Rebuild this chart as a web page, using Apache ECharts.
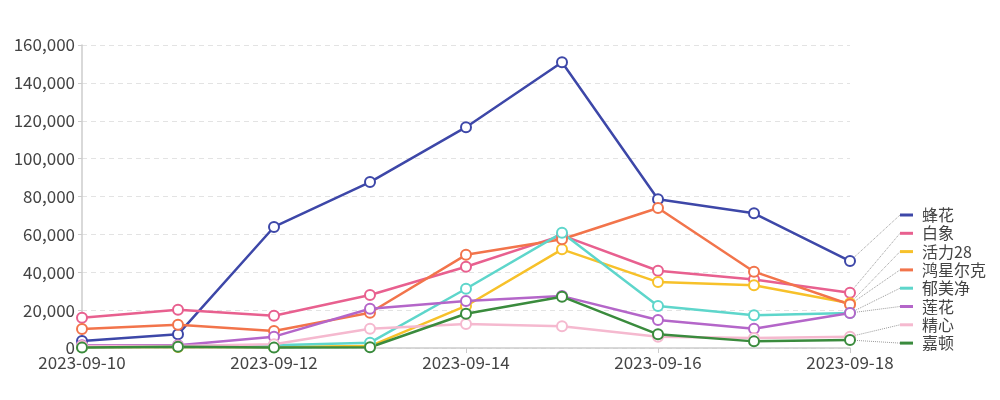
<!DOCTYPE html>
<html>
<head>
<meta charset="utf-8">
<script src="https://cdn.jsdelivr.net/npm/echarts@6/dist/echarts.min.js"></script>
<style>html,body{margin:0;padding:0;background:#fff}#c{width:1000px;height:400px}</style>
</head>
<body>
<div id="c"></div>
<script>
const dates = ['2023-09-10','2023-09-11','2023-09-12','2023-09-13','2023-09-14','2023-09-15','2023-09-16','2023-09-17','2023-09-18'];
const names = ['蜂花','白象','活力28','鸿星尔克','郁美净','莲花','精心','嘉顿'];
const fenghua   = [3700, 7200, 63900, 87600, 116600, 150900, 78500, 71100, 45900];
const baixiang  = [16000, 20200, 17000, 28000, 42900, 59500, 40800, 36200, 29200];
const huoli28   = [500, 500, 500, 1000, 22200, 52100, 34800, 33100, 23600];
const hongxing  = [10000, 12300, 9000, 18600, 49200, 57400, 73900, 40300, 23000];
const yumeijing = [1000, 1000, 1500, 2800, 31300, 60800, 22200, 17300, 18500];
const lianhua   = [1500, 1500, 6000, 20700, 24800, 27400, 14800, 10200, 18500];
const jingxin   = [1000, 1000, 2000, 10200, 12700, 11500, 6000, 5300, 6000];
const jiadun    = [200, 700, 200, 400, 18100, 27100, 7200, 3500, 4200];
const yTicks = [0, 20000, 40000, 60000, 80000, 100000, 120000, 140000, 160000];

const seriesValues = [fenghua, baixiang, huoli28, hongxing, yumeijing, lianhua, jingxin, jiadun];
const colors = ['#3d47a8','#e8608f','#f7c12a','#f2744b','#5ed6cb','#b466c9','#f5b9cf','#3a8b3d'];
const FONT = '"Noto Sans CJK SC", "Noto Sans", sans-serif';

const chart = echarts.init(document.getElementById('c'), null, {renderer: 'canvas'});
const last = dates.length - 1;
const series = names.map((n, k) => ({
  name: n,
  type: 'line',
  data: seriesValues[k].map((v, i) => i === last ? {value: v, label: {show: true}} : v),
  symbol: 'emptyCircle',
  symbolSize: 10,
  showAllSymbol: true,
  lineStyle: {width: 2.5, color: colors[k]},
  itemStyle: {color: colors[k], borderWidth: 2},
  emphasis: {disabled: true},
  label: {
    show: false,
    formatter: '{i|}{n|' + n + '}',
    rich: {
      i: {width: 13, height: 3, backgroundColor: colors[k]},
      n: {padding: [0, 0, 0, 9], color: '#444', fontSize: 16, fontFamily: FONT}
    }
  },
  labelLine: {show: true, lineStyle: {color: '#999', type: 'dotted', width: 1}},
  labelLayout: function () {
    return {x: 900, y: 215 + k * 18.3, align: 'left', verticalAlign: 'middle'};
  }
}));

chart.setOption({
  animation: false,
  color: colors,
  grid: {left: 82, right: 150, top: 45, bottom: 52},
  xAxis: {
    type: 'category',
    data: dates,
    boundaryGap: false,
    axisLine: {lineStyle: {color: '#ccc', width: 1.5}},
    axisTick: {interval: 1, lineStyle: {color: '#ccc'}},
    axisLabel: {interval: 1, color: '#444', fontSize: 17, fontFamily: FONT, margin: 6},
    splitLine: {show: false}
  },
  yAxis: {
    type: 'value',
    min: yTicks[0],
    max: yTicks[yTicks.length - 1],
    interval: yTicks[1] - yTicks[0],
    axisLine: {show: true, lineStyle: {color: '#ccc', width: 1.5}},
    axisTick: {show: true, length: 4, lineStyle: {color: '#ccc'}},
    axisLabel: {color: '#444', fontSize: 17, fontFamily: FONT, margin: 7,
      formatter: v => v.toLocaleString('en-US')},
    splitLine: {lineStyle: {color: '#e3e3e3', type: [5, 4]}}
  },
  series: series
});
</script>
</body>
</html>
